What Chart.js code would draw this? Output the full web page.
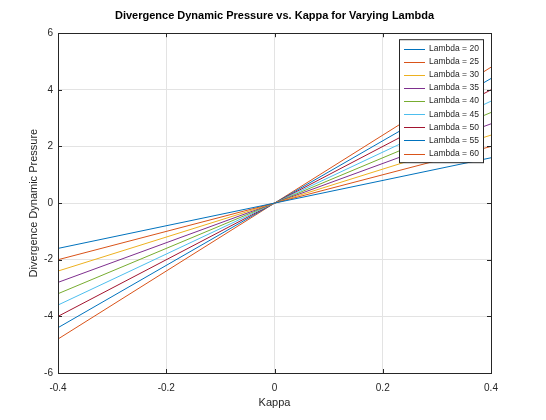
<!DOCTYPE html>
<html>
<head>
<meta charset="utf-8">
<script src="https://cdn.jsdelivr.net/npm/chart.js@4.4.1/dist/chart.umd.min.js"></script>
<style>
  body { margin: 0; background: #fff; }
  #wrap { width: 546px; height: 420px; }
</style>
</head>
<body>
<div id="wrap"><canvas id="divChart" width="546" height="420"></canvas></div>
<script>
// kappa end points of each line
const kappa = [-0.4, 0.4];
const lambdas = [20, 25, 30, 35, 40, 45, 50, 55, 60];
// pressure read at kappa = -0.4 and kappa = 0.4
const pressureAtMinKappa = [-1.6, -2.0, -2.4, -2.8, -3.2, -3.6, -4.0, -4.4, -4.8];
const pressureAtMaxKappa = [1.6, 2.0, 2.4, 2.8, 3.2, 3.6, 4.0, 4.4, 4.8];
const xTickLabels = ["-0.4", "-0.2", "0", "0.2", "0.4"];
const yTickLabels = ["-6", "-4", "-2", "0", "2", "4", "6"];

const lineColors = [
    "#0072bd", "#d95319", "#edb120", "#7e2f8e", "#77ac30",
    "#4dbeee", "#a2142f", "#0072bd", "#d95319"
];
const textColor = "#262626";
const fontFamily = "'Liberation Sans', Arial, sans-serif";

const datasets = lambdas.map((lam, i) => ({
    label: "Lambda = " + lam,
    data: [
        { x: kappa[0], y: pressureAtMinKappa[i] },
        { x: kappa[1], y: pressureAtMaxKappa[i] }
    ],
    borderColor: lineColors[i],
    borderWidth: 1,
    pointRadius: 0,
    fill: false
}));

// box frame, inward ticks and legend inside the axes
const axesBox = {
    id: "axesBox",
    afterDatasetsDraw(chart) {
        const { ctx, chartArea: a, scales } = chart;
        ctx.save();
        ctx.strokeStyle = textColor;
        ctx.lineWidth = 1;
        ctx.beginPath();
        scales.x.ticks.forEach(t => {
            const px = Math.round(scales.x.getPixelForValue(t.value)) + 0.5;
            ctx.moveTo(px, a.bottom); ctx.lineTo(px, a.bottom - 4);
            ctx.moveTo(px, a.top); ctx.lineTo(px, a.top + 4);
        });
        scales.y.ticks.forEach(t => {
            const py = Math.round(scales.y.getPixelForValue(t.value)) + 0.5;
            ctx.moveTo(a.left, py); ctx.lineTo(a.left + 4, py);
            ctx.moveTo(a.right, py); ctx.lineTo(a.right - 4, py);
        });
        ctx.stroke();
        ctx.strokeRect(Math.round(a.left) + 0.5, Math.round(a.top) + 0.5,
            Math.round(a.right - a.left), Math.round(a.bottom - a.top));

        // legend
        const bx = a.right - 92, by = a.top + 6, bw = 84, bh = 123;
        const rowH = 13.1;
        ctx.fillStyle = "#fff";
        ctx.fillRect(bx, by, bw, bh);
        ctx.strokeRect(bx + 0.5, by + 0.5, bw, bh);
        ctx.font = "8.5px " + fontFamily;
        ctx.textBaseline = "middle";
        chart.data.datasets.forEach((ds, i) => {
            const y = by + 9.5 + i * rowH;
            ctx.strokeStyle = ds.borderColor;
            ctx.beginPath();
            ctx.moveTo(bx + 5, Math.round(y) + 0.5);
            ctx.lineTo(bx + 26, Math.round(y) + 0.5);
            ctx.stroke();
            ctx.fillStyle = textColor;
            ctx.fillText(ds.label, bx + 30, y);
        });
        ctx.restore();
    }
};

new Chart(document.getElementById("divChart"), {
    type: "line",
    data: { datasets },
    options: {
        responsive: false,
        animation: false,
        layout: { padding: { top: 0, left: 0, right: 55, bottom: 0 } },
        plugins: {
            legend: { display: false },
            tooltip: { enabled: false },
            title: {
                display: true,
                fullSize: false,
                text: "Divergence Dynamic Pressure vs. Kappa for Varying Lambda",
                color: "#000",
                font: { family: fontFamily, size: 11, weight: "bold" },
                padding: { top: 9, bottom: 11 }
            }
        },
        scales: {
            x: {
                type: "linear",
                min: -0.4,
                max: 0.4,
                afterFit: s => { s.height = 47; },
                afterBuildTicks: s => {
                    s.ticks = xTickLabels.map(v => ({ value: parseFloat(v) }));
                },
                ticks: {
                    color: textColor,
                    padding: 9,
                    maxRotation: 0,
                    font: { family: fontFamily, size: 10 },
                    callback: (v, i) => xTickLabels[i]
                },
                grid: { color: "#e3e3e3", drawTicks: false },
                border: { display: false },
                title: {
                    display: true,
                    text: "Kappa",
                    color: textColor,
                    font: { family: fontFamily, size: 11 },
                    padding: { top: 0, bottom: 10 }
                }
            },
            y: {
                min: -6,
                max: 6,
                afterFit: s => { s.width = 58; },
                afterBuildTicks: s => {
                    s.ticks = yTickLabels.map(v => ({ value: parseFloat(v) }));
                },
                ticks: {
                    color: textColor,
                    padding: 5,
                    font: { family: fontFamily, size: 10 },
                    callback: (v, i) => yTickLabels[i]
                },
                grid: { color: "#e3e3e3", drawTicks: false },
                border: { display: false },
                title: {
                    display: true,
                    text: "Divergence Dynamic Pressure",
                    color: textColor,
                    font: { family: fontFamily, size: 11 },
                    padding: { top: 27, bottom: 0 }
                }
            }
        }
    },
    plugins: [axesBox]
});
</script>
</body>
</html>
